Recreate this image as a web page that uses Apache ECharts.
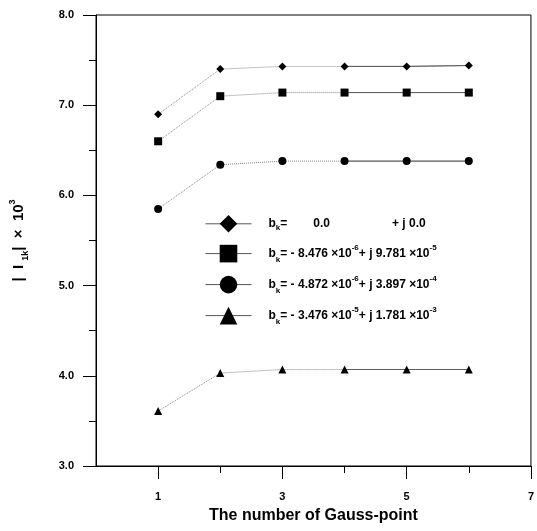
<!DOCTYPE html>
<html>
<head>
<meta charset="utf-8">
<script src="https://cdn.jsdelivr.net/npm/echarts@6/dist/echarts.min.js"></script>
<style>
  html, body { margin: 0; padding: 0; background: #fff; }
  #chart { width: 537px; height: 531px; }
</style>
</head>
<body>
<div id="chart"></div>
<script>
// Gauss 点数
const gaussPoints = [1, 2, 3, 4, 5, 6]
const diamondVals = [6.90, 7.40, 7.43, 7.43, 7.43, 7.44]
const squareVals = [6.60, 7.10, 7.14, 7.14, 7.14, 7.14]
const circleVals = [5.85, 6.34, 6.38, 6.38, 6.38, 6.38]
const triangleVals = [3.61, 4.03, 4.07, 4.07, 4.07, 4.07]
const xLabels = [1, 3, 5, 7]
const xMinorTicks = [2, 4, 6]
const solidFrom = 3 // 从第4个点开始画实线

const font = 'Arial, "Liberation Sans", sans-serif'

const curves = [
  { name: 'r1', vals: diamondVals, symbol: 'diamond', size: 8 },
  { name: 'r2', vals: squareVals, symbol: 'rect', size: 8 },
  { name: 'r3', vals: circleVals, symbol: 'circle', size: 8 },
  { name: 'r4', vals: triangleVals, symbol: 'triangle', size: 8 }
]

const legendText = {
  r1: '{b|b}{s|k}{b|=}{sp1| }{b|0.0}{sp2| }{b|+ j 0.0}',
  r2: '{b|b}{s|k}{b|= - 8.476 \u00d710}{u|-6}{b|+ j 9.781 \u00d710}{u|-5}',
  r3: '{b|b}{s|k}{b|= - 4.872 \u00d710}{u|-6}{b|+ j 3.897 \u00d710}{u|-4}',
  r4: '{b|b}{s|k}{b|= - 3.476 \u00d710}{u|-5}{b|+ j 1.781 \u00d710}{u|-3}'
}

const series = []
curves.forEach((c) => {
  const pts = gaussPoints.map((x, i) => [x, c.vals[i]])
  series.push({
    name: c.name,
    type: 'line',
    data: pts,
    symbol: c.symbol,
    symbolSize: c.size,
    itemStyle: { color: '#000' },
    lineStyle: { color: '#888', width: 1, type: 'dotted' },
    z: 3
  })
  series.push({
    name: c.name + '_solid',
    type: 'line',
    data: pts.map((p, i) => (i >= solidFrom ? p : [p[0], null])),
    symbol: 'none',
    connectNulls: false,
    lineStyle: { color: '#333', width: 1, type: 'solid' },
    z: 2
  })
})

const chart = echarts.init(document.getElementById('chart'))

chart.setOption({
  animation: false,
  backgroundColor: '#fff',
  grid: {
    left: 96, top: 15, right: 1, bottom: 65,
    show: true, borderColor: '#000', borderWidth: 1
  },
  legend: {
    data: curves.map(c => c.name),
    orient: 'vertical',
    left: 200,
    top: 210,
    itemWidth: 46,
    itemHeight: 22,
    itemGap: 11,
    lineStyle: { color: '#555', width: 1, type: 'solid' },
    itemStyle: { color: '#000' },
    formatter: (name) => legendText[name],
    textStyle: {
      color: '#000',
      padding: [0, 0, 0, 12],
      rich: {
        b: { fontFamily: font, fontWeight: 'bold', fontSize: 12, color: '#000', lineHeight: 16 },
        s: { fontFamily: font, fontWeight: 'bold', fontSize: 8, color: '#000', verticalAlign: 'bottom', lineHeight: 12 },
        u: { fontFamily: font, fontWeight: 'bold', fontSize: 8, color: '#000', verticalAlign: 'top', lineHeight: 20 },
        sp1: { width: 26, fontSize: 12 },
        sp2: { width: 62, fontSize: 12 }
      }
    }
  },
  xAxis: [
    {
      type: 'value',
      min: 0, max: 7,
      name: 'The number of Gauss-point',
      nameLocation: 'middle',
      nameGap: 42,
      nameTextStyle: { fontFamily: font, fontWeight: 'bold', fontSize: 16, color: '#000' },
      axisLine: { lineStyle: { color: '#000', width: 1 } },
      axisTick: { customValues: xLabels, length: 13, lineStyle: { color: '#000' } },
      axisLabel: {
        customValues: xLabels, margin: 25,
        fontFamily: font, fontWeight: 'bold', fontSize: 11, color: '#000'
      },
      splitLine: { show: false }
    },
    {
      type: 'value',
      min: 0, max: 7,
      position: 'bottom',
      axisLine: { show: false },
      axisTick: { customValues: xMinorTicks, length: 7, lineStyle: { color: '#000' } },
      axisLabel: { show: false },
      splitLine: { show: false }
    }
  ],
  yAxis: {
    type: 'value',
    min: 3, max: 8, interval: 1,
    name: '{t||  I }{s|1k}{t||  \u00d7  10}{u|3}',
    nameLocation: 'middle',
    nameGap: 66,
    nameTextStyle: {
      rich: {
        t: { fontFamily: font, fontWeight: 'bold', fontSize: 15, color: '#000', lineHeight: 18 },
        s: { fontFamily: font, fontWeight: 'bold', fontSize: 9, color: '#000', verticalAlign: 'bottom', lineHeight: 12 },
        u: { fontFamily: font, fontWeight: 'bold', fontSize: 9, color: '#000', verticalAlign: 'top', lineHeight: 22 }
      }
    },
    axisLine: { show: true, lineStyle: { color: '#000', width: 1 } },
    axisTick: { show: true, length: 13, lineStyle: { color: '#000' } },
    minorTick: { show: true, splitNumber: 2, length: 7, lineStyle: { color: '#000' } },
    axisLabel: {
      margin: 22,
      formatter: (v) => v.toFixed(1),
      fontFamily: font, fontWeight: 'bold', fontSize: 11, color: '#000'
    },
    splitLine: { show: false }
  },
  series: series
})
</script>
</body>
</html>
